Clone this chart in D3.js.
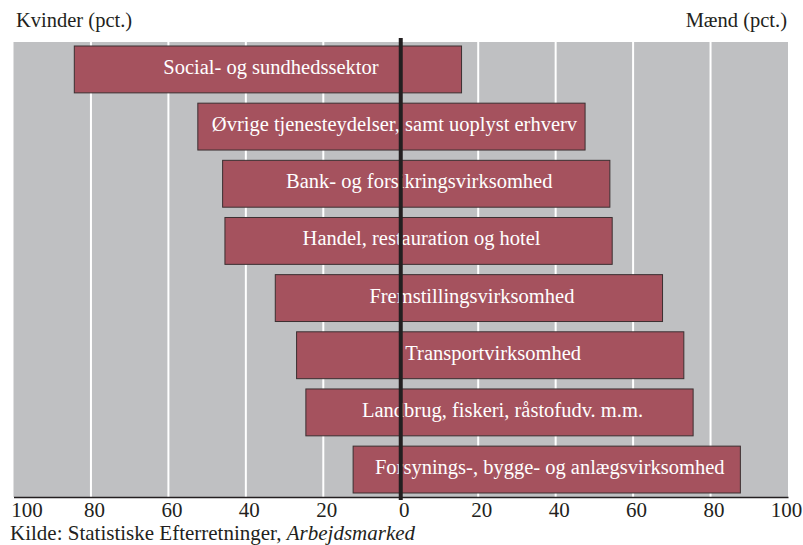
<!DOCTYPE html>
<html>
<head>
<meta charset="utf-8">
<script src="https://cdn.jsdelivr.net/npm/d3@7"></script>
<style>
  body { margin: 0; background: #fff; }
</style>
</head>
<body>
<svg width="803" height="545" font-family="Liberation Serif, Times New Roman, serif"></svg>
<script>
// sectors, top to bottom
var sectors = [
  "Social- og sundhedssektor",
  "Øvrige tjenesteydelser, samt uoplyst erhverv",
  "Bank- og forsikringsvirksomhed",
  "Handel, restauration og hotel",
  "Fremstillingsvirksomhed",
  "Transportvirksomhed",
  "Landbrug, fiskeri, råstofudv. m.m.",
  "Forsynings-, bygge- og anlægsvirksomhed"
];
// share of women / men (pct.)
var women = [84.3, 52.4, 46.0, 45.4, 32.4, 26.9, 24.5, 12.3];
var men = [15.7, 47.6, 54.0, 54.6, 67.6, 73.1, 75.5, 87.7];
var ticks = [-100, -80, -60, -40, -20, 0, 20, 40, 60, 80, 100];

var svg = d3.select("svg");
const plotL = 13.5, plotR = 788, plotT = 42, plotB = 497;
const serifFont = "Liberation Serif, Times New Roman, serif";

var x = d3.scaleLinear().domain([-100, 100]).range([plotL, plotR]);
var y = d3.scaleBand().domain(sectors).range([plotT, plotB]).paddingInner(0.18).paddingOuter(0.07);

// plot background
svg.append("rect")
  .attr("x", plotL).attr("y", plotT)
  .attr("width", plotR - plotL).attr("height", plotB - plotT)
  .attr("fill", "#bfc0c2");

// vertical grid
svg.append("g")
  .selectAll("line")
  .data(ticks.filter(function (d) { return d != 0 && Math.abs(d) != 100; }))
  .join("line")
  .attr("x1", (d) => x(d)).attr("x2", (d) => x(d))
  .attr("y1", plotT).attr("y2", plotB)
  .attr("stroke", "#fff")
  .attr("stroke-width", 2);

// bars
var data = sectors.map(function (s, i) {
  return { name: s, w: women[i], m: men[i] };
});

svg.append("g")
  .selectAll("rect")
  .data(data)
  .join("rect")
  .attr("x", (d) => x(-d.w))
  .attr("y", (d) => y(d.name))
  .attr("width", (d) => x(d.m) - x(-d.w))
  .attr("height", y.bandwidth())
  .attr("fill", "#a5525e")
  .attr("stroke", "#3b2f31")
  .attr("stroke-width", 1);

svg.append("g")
  .selectAll("text")
  .data(data)
  .join("text")
  .attr("x", (d) => (x(-d.w) + x(d.m)) / 2 + 3)
  .attr("y", (d) => y(d.name) + y.bandwidth() / 2 + 4.5)
  .attr("text-anchor", "middle")
  .attr("font-family", serifFont)
  .attr("fill", "#fff")
  .attr("font-size", 20.5)
  .text((d) => d.name);

// x axis
var axis = svg.append("g")
  .attr("transform", "translate(0," + plotB + ")")
  .call(d3.axisBottom(x).tickValues(ticks).tickSize(0).tickFormat((d) => Math.abs(d)));
axis.attr("font-family", serifFont);
axis.select(".domain").attr("stroke", "#231f20").attr("stroke-width", 1.5);
axis.selectAll("text")
  .attr("font-family", serifFont)
  .attr("font-size", 21)
  .attr("fill", "#231f20")
  .attr("dy", 0)
  .attr("y", 20)
  .attr("dx", 3);
axis.selectAll("text").filter((d) => d == -100).attr("dx", 13);
axis.selectAll("text").filter((d) => d == 100).attr("dx", -2);

// zero line
svg.append("line")
  .attr("x1", x(0)).attr("x2", x(0))
  .attr("y1", plotT - 4).attr("y2", plotB + 3)
  .attr("stroke", "#231f20")
  .attr("stroke-width", 4);

// titles
svg.append("text")
  .attr("x", 16).attr("y", 27)
  .attr("font-family", serifFont)
  .attr("font-size", 20.5).attr("fill", "#231f20")
  .text("Kvinder (pct.)");
svg.append("text")
  .attr("x", 787).attr("y", 27)
  .attr("text-anchor", "end")
  .attr("font-family", serifFont)
  .attr("font-size", 20.5).attr("fill", "#231f20")
  .text("Mænd (pct.)");

var src = svg.append("text")
  .attr("x", 10).attr("y", 540)
  .attr("font-family", serifFont)
  .attr("font-size", 21).attr("fill", "#231f20");
src.append("tspan").text("Kilde: Statistiske Efterretninger, ");
src.append("tspan").attr("font-style", "italic").text("Arbejdsmarked");
</script>
</body>
</html>
